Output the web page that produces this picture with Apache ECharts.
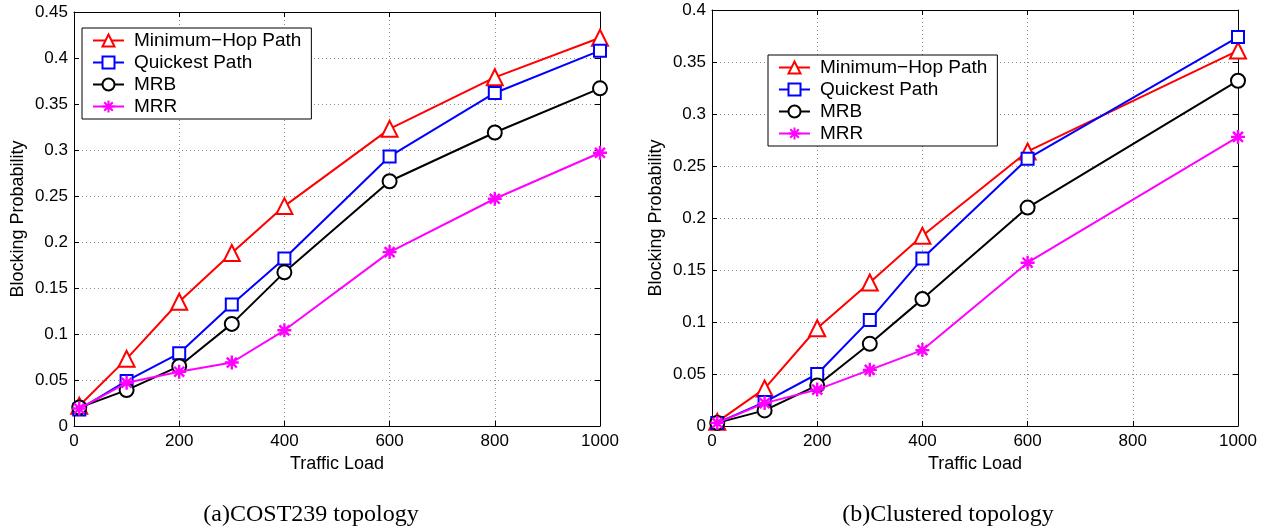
<!DOCTYPE html>
<html>
<head>
<meta charset="utf-8">
<script src="https://cdn.jsdelivr.net/npm/echarts@6/dist/echarts.min.js"></script>
<style>
html,body{margin:0;padding:0;background:#fff;}
#c{width:1276px;height:532px;}
</style>
</head>
<body>
<div id="c"></div>
<script>
// ---- data ----
const seriesNames = ['Minimum\u2212Hop Path', 'Quickest Path', 'MRB', 'MRR'];
const loadsA = [10, 100, 200, 300, 400, 600, 800, 1000];
const minHopA = [0.022, 0.073, 0.135, 0.188, 0.239, 0.323, 0.379, 0.422];
const quickA  = [0.018, 0.049, 0.079, 0.132, 0.182, 0.293, 0.362, 0.408];
const mrbA    = [0.020, 0.039, 0.065, 0.111, 0.167, 0.266, 0.319, 0.367];
const mrrA    = [0.019, 0.047, 0.059, 0.069, 0.104, 0.189, 0.247, 0.297];

const loadsB = [10, 100, 200, 300, 400, 600, 1000];
const minHopB = [0.004, 0.036, 0.094, 0.138, 0.183, 0.264, 0.361];
const quickB  = [0.003, 0.023, 0.050, 0.102, 0.161, 0.257, 0.374];
const mrbB    = [0.003, 0.015, 0.039, 0.079, 0.122, 0.210, 0.332];
const mrrB    = [0.003, 0.022, 0.035, 0.054, 0.073, 0.157, 0.278];

const captionA = '(a)COST239 topology';
const captionB = '(b)Clustered topology';
const xName = 'Traffic Load';
const yName = 'Blocking Probability';

// ---- styles ----
const FONT = '"Liberation Sans", Arial, Helvetica, sans-serif';
const SERIF = '"Liberation Serif", "Times New Roman", serif';
const colors = ['#ff0000', '#0000ff', '#000000', '#ff00ff'];
const asterisk = 'path://M0,-10L0,10M-10,0L10,0M-7.1,-7.1L7.1,7.1M-7.1,7.1L7.1,-7.1';
const symbols = ['emptyTriangle', 'emptyRect', 'emptyCircle', asterisk];
const symbolSizes = [16, 12, 14, 14];

function pairs(xs, ys) { return xs.map((x, i) => [x, ys[i]]); }

function xAxes(grid) {
  const common = {
    gridIndex: grid, type: 'value', min: 0, max: 1000, interval: 200,
    axisLine: { show: true, onZero: false, lineStyle: { color: '#000', width: 1 } },
    axisTick: { show: true, inside: true, length: 5, lineStyle: { color: '#000' } }
  };
  return [
    Object.assign({}, common, {
      position: 'bottom',
      name: xName, nameLocation: 'middle', nameGap: 24,
      nameTextStyle: { fontFamily: FONT, fontSize: 18, color: '#000' },
      axisLabel: { fontFamily: FONT, fontSize: 17, color: '#000', margin: 7,
                   formatter: v => String(v) },
      splitLine: { show: true, lineStyle: { color: '#8c8c8c', type: [1, 3], width: 1 } }
    }),
    Object.assign({}, common, {
      position: 'top', axisLabel: { show: false }, splitLine: { show: false }
    })
  ];
}
function yAxes(grid, max) {
  const common = {
    gridIndex: grid, type: 'value', min: 0, max: max, interval: 0.05,
    axisLine: { show: true, onZero: false, lineStyle: { color: '#000', width: 1 } },
    axisTick: { show: true, inside: true, length: 5, lineStyle: { color: '#000' } }
  };
  return [
    Object.assign({}, common, {
      position: 'left',
      name: yName, nameLocation: 'middle', nameGap: 47,
      nameTextStyle: { fontFamily: FONT, fontSize: 18, color: '#000' },
      axisLabel: { fontFamily: FONT, fontSize: 17, color: '#000', margin: 6,
                   formatter: v => String(+v.toFixed(2)) },
      splitLine: { show: true, lineStyle: { color: '#8c8c8c', type: [1, 3], width: 1 } }
    }),
    Object.assign({}, common, {
      position: 'right', axisLabel: { show: false }, splitLine: { show: false }
    })
  ];
}

function mkSeries(idx, xs, ys, xi, yi) {
  const isAst = idx === 3;
  return {
    name: seriesNames[idx], type: 'line',
    xAxisIndex: xi, yAxisIndex: yi,
    data: pairs(xs, ys),
    symbol: symbols[idx], symbolSize: symbolSizes[idx], symbolKeepAspect: true,
    showAllSymbol: true,
    lineStyle: { color: colors[idx], width: 2 },
    itemStyle: { color: colors[idx], borderColor: colors[idx], borderWidth: isAst ? 2.4 : 2 },
    emphasis: { disabled: true },
    animation: false, z: 2 + idx
  };
}

const legendCommon = {
  orient: 'vertical',
  data: seriesNames,
  backgroundColor: '#fff',
  borderColor: '#000', borderWidth: 1,
  padding: [3, 10, 3, 10],
  itemWidth: 31, itemHeight: 15, itemGap: 3,
  textStyle: { fontFamily: FONT, fontSize: 19, color: '#000', padding: [0, 0, 0, 5] },
  selectedMode: false
};

const option = {
  backgroundColor: '#fff',
  animation: false,
  title: [
    { text: captionA, left: 306, top: 498, textAlign: 'center',
      textStyle: { fontFamily: SERIF, fontSize: 24, fontWeight: 'normal', color: '#000' } },
    { text: captionB, left: 943, top: 498, textAlign: 'center',
      textStyle: { fontFamily: SERIF, fontSize: 24, fontWeight: 'normal', color: '#000' } }
  ],
  grid: [
    { left: 74, top: 12, width: 526, height: 414 },
    { left: 712, top: 10, width: 526, height: 416 }
  ],
  legend: [
    Object.assign({}, legendCommon, { left: 82, top: 28 }),
    Object.assign({}, legendCommon, { left: 768, top: 55 })
  ],
  xAxis: [].concat(xAxes(0), xAxes(1)),
  yAxis: [].concat(yAxes(0, 0.45), yAxes(1, 0.4)),
  series: [
    mkSeries(0, loadsA, minHopA, 0, 0),
    mkSeries(1, loadsA, quickA, 0, 0),
    mkSeries(2, loadsA, mrbA, 0, 0),
    mkSeries(3, loadsA, mrrA, 0, 0),
    mkSeries(0, loadsB, minHopB, 2, 2),
    mkSeries(1, loadsB, quickB, 2, 2),
    mkSeries(2, loadsB, mrbB, 2, 2),
    mkSeries(3, loadsB, mrrB, 2, 2)
  ]
};

const chart = echarts.init(document.getElementById('c'), null, { renderer: 'canvas' });
chart.setOption(option);
</script>
</body>
</html>
